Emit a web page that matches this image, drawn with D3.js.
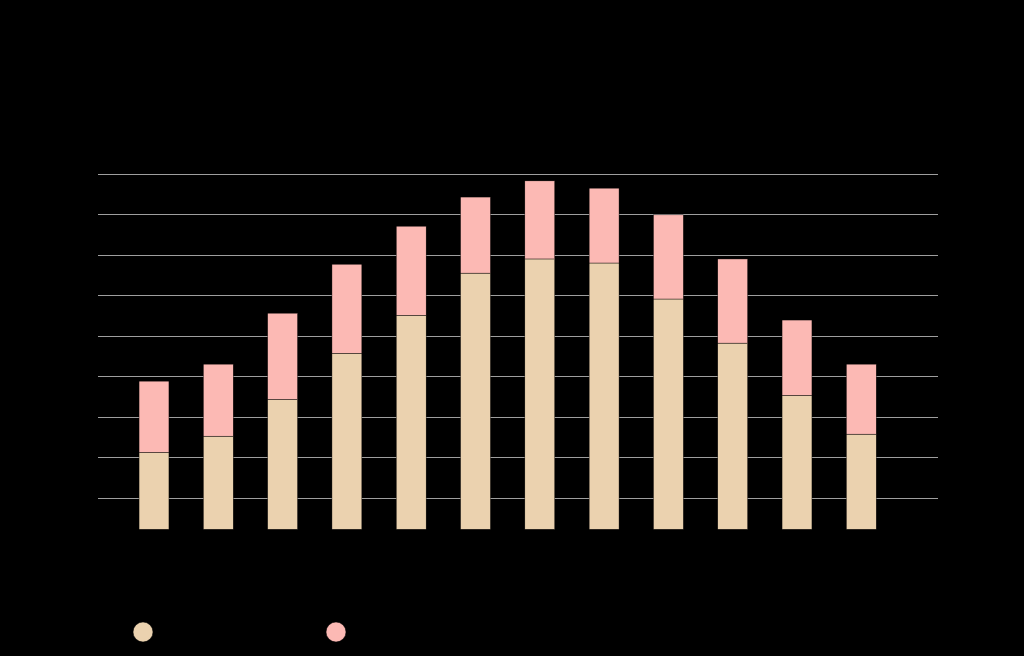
<!DOCTYPE html>
<html>
<head>
<meta charset="utf-8">
<script src="https://cdn.jsdelivr.net/npm/d3@7"></script>
<style>
  html, body { margin: 0; padding: 0; background: #000; }
  svg { display: block; font-family: "Liberation Sans", Arial, sans-serif; }
</style>
</head>
<body>
<svg id="chart" width="1024" height="656"></svg>
<script>
// ---- data ----
const months = ["Jan","Feb","Mar","Apr","May","Jun","Jul","Aug","Sep","Oct","Nov","Dec"];
const lowValues  = [21.2, 25.2, 34.3, 45.7, 55.1, 65.5, 69.0, 68.0, 59.1, 48.2, 35.3, 25.7];
const rangeValues = [17.6, 17.8, 21.3, 22.0, 22.0, 18.8, 19.3, 18.5, 20.8, 20.8, 18.6, 17.3];
const seriesNames = ["Average low (°F)", "Average high (°F)"];
const seriesColors = ["#ebd2af", "#fcb9b4"];
const gridTicks = [10, 20, 30, 40, 50, 60, 70, 80, 90];
const titleText = "Monthly average temperatures";

// ---- layout ----
const W = 1024, H = 656;
const plot = { left: 98, right: 938, top: 174, bottom: 529.3 };
const svg = d3.select("#chart");
svg.append("rect").attr("width", W).attr("height", H).attr("fill", "#000");

const x = d3.scaleBand().domain(months).range([121.85, 893.45]).paddingInner(0.535).paddingOuter(0.2675);
const y = d3.scaleLinear().domain([2.18, 90]).range([plot.bottom, plot.top]);
const base = y.domain()[0];

// title (black on black as in reference)
svg.append("text").attr("x", W / 2).attr("y", 60).attr("text-anchor", "middle")
  .attr("font-size", 20).attr("fill", "#000").text(titleText);

// gridlines
svg.append("g").selectAll("line").data(gridTicks).join("line")
  .attr("x1", plot.left).attr("x2", plot.right)
  .attr("y1", d => Math.round(y(d)) + 0.5).attr("y2", d => Math.round(y(d)) + 0.5)
  .attr("stroke", "#9e9e9e").attr("stroke-width", 1.2);

// axis labels (black)
const rightAxis = d3.axisRight(y).tickValues(gridTicks).tickSize(0).tickPadding(4);
svg.append("g").attr("transform", `translate(${plot.right},0)`).call(rightAxis)
  .call(g => g.select(".domain").remove())
  .call(g => g.selectAll("text").attr("fill", "#000").attr("font-size", 11));
const leftAxis = d3.axisLeft(y).tickValues(gridTicks).tickSize(0).tickPadding(4);
svg.append("g").attr("transform", `translate(${plot.left},0)`).call(leftAxis)
  .call(g => g.select(".domain").remove())
  .call(g => g.selectAll("text").attr("fill", "#000").attr("font-size", 11));

// stacked bars (bars start at the bottom of the scale domain)
const table = months.map((m, i) => ({ month: m, low: lowValues[i] - base, range: rangeValues[i] }));
const stacked = d3.stack().keys(["low", "range"])(table);
svg.append("g").selectAll("g").data(stacked).join("g")
  .attr("fill", (d, i) => seriesColors[i])
  .selectAll("rect").data(d => d).join("rect")
  .attr("x", d => x(d.data.month))
  .attr("width", x.bandwidth())
  .attr("y", d => y(d[1] + base))
  .attr("height", d => y(d[0] + base) - y(d[1] + base))
  .attr("stroke", "#000").attr("stroke-width", 0.4);

// month labels (black)
const xAxis = d3.axisBottom(x).tickSize(0).tickPadding(8);
svg.append("g").attr("transform", `translate(0,${plot.bottom})`).call(xAxis)
  .call(g => g.select(".domain").remove())
  .call(g => g.selectAll("text").attr("fill", "#000").attr("font-size", 12));

// legend
const legendX = [143, 336];
const legend = svg.append("g").selectAll("g").data(seriesNames).join("g")
  .attr("transform", (d, i) => `translate(${legendX[i]},632)`);
legend.append("circle").attr("r", 10).attr("fill", (d, i) => seriesColors[i])
  .attr("stroke", "#000").attr("stroke-width", 0.5);
legend.append("text").attr("x", 18).attr("dy", "0.35em").attr("font-size", 14)
  .attr("fill", "#000").text(d => d);
</script>
</body>
</html>
